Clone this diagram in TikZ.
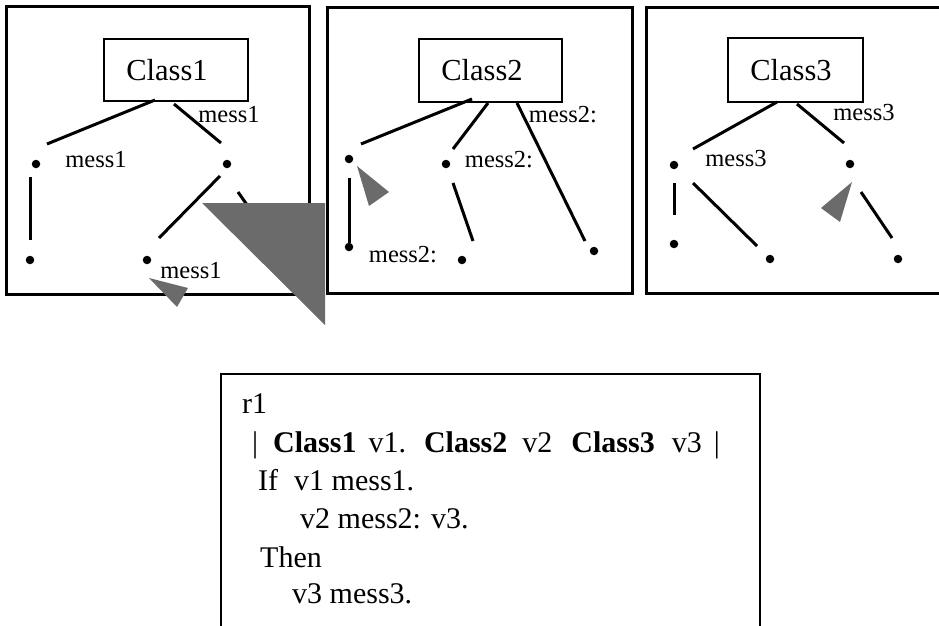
\documentclass[tikz,border=0pt]{standalone}
\usepackage{fontspec}
\setmainfont{Liberation Serif}
\begin{document}
\begin{tikzpicture}[x=1pt,y=-1pt,
  panel/.style={line width=3pt},
  classbox/.style={draw, line width=2pt, rectangle, inner sep=0pt},
  ctext/.style={font=\fontsize{30.5}{34}\selectfont, inner sep=0pt, anchor=base},
  lbl/.style={font=\fontsize{24.5}{28}\selectfont, inner sep=0pt, anchor=base},
  conn/.style={line width=3pt},
  pt/.style={circle, fill=black, inner sep=0pt, minimum size=8.5pt},
  hatch/.style={fill=black!58, draw=none},
  rtext/.style={font=\fontsize{30}{36}\selectfont, inner sep=0pt, anchor=base west}]
\useasboundingbox (0,0) rectangle (939,626);

% ---------- panels ----------
\draw[panel] (6,7) rectangle (309,294);
\draw[panel] (327,8) rectangle (632,293);
\draw[panel] (950,8) -- (646,8) -- (646,293) -- (950,293);

% ---------- panel 1 ----------
\node[classbox, minimum width=144pt, minimum height=62pt] (c1) at (176,70) {};
\node[ctext] (c1t) at (167,80) {Class1};
\node[pt] (p1a) at (36,164) {};
\node[pt] (p1b) at (227,164) {};
\node[pt] (p1c) at (30,260) {};
\node[pt] (p1d) at (147,260) {};
\coordinate (e1a) at (155,100); \coordinate (e1b) at (47,144);
\coordinate (e1c) at (174,104); \coordinate (e1d) at (221,143);
\coordinate (e1e) at (30,177);  \coordinate (e1f) at (30,240);
\coordinate (e1g) at (220,176); \coordinate (e1h) at (159,238);
\coordinate (e1i) at (238,192); \coordinate (e1j) at (252,212);
\draw[conn] (e1a) -- (e1b);
\draw[conn] (e1c) -- (e1d);
\draw[conn] (e1e) -- (e1f);
\draw[conn] (e1g) -- (e1h);
\draw[conn] (e1i) -- (e1j);
\node[lbl] (l1a) at (229,122) {mess1};
\node[lbl] (l1b) at (96,167) {mess1};
\node[lbl] (l1c) at (191,278) {mess1};

% ---------- panel 2 ----------
\node[classbox, minimum width=143pt, minimum height=63pt] (c2) at (490.5,70.5) {};
\node[ctext] (c2t) at (482,80) {Class2};
\node[pt] (p2a) at (349,159) {};
\node[pt] (p2b) at (446,164) {};
\node[pt] (p2c) at (349,247) {};
\node[pt] (p2d) at (462,260) {};
\node[pt] (p2e) at (594,251) {};
\coordinate (e2a) at (472,99);  \coordinate (e2b) at (361,144);
\coordinate (e2c) at (488,103); \coordinate (e2d) at (453,149);
\coordinate (e2e) at (517,103); \coordinate (e2f) at (585,241);
\coordinate (e2g) at (453,183); \coordinate (e2h) at (473,241);
\coordinate (e2i) at (349,178);
\draw[conn] (e2a) -- (e2b);
\draw[conn] (e2c) -- (e2d);
\draw[conn] (e2e) -- (e2f);
\draw[conn] (p2c) -- (e2i);
\draw[conn] (e2g) -- (e2h);
\node[lbl] (l2a) at (563,122) {mess2:};
\node[lbl] (l2b) at (499,167) {mess2:};
\node[lbl] (l2c) at (403,262) {mess2:};

% ---------- panel 3 ----------
\node[classbox, minimum width=135pt, minimum height=64pt] (c3) at (795.5,70) {};
\node[ctext] (c3t) at (791,80) {Class3};
\node[pt] (p3a) at (674,165) {};
\node[pt] (p3b) at (850,164) {};
\node[pt] (p3c) at (674,244) {};
\node[pt] (p3d) at (770,259) {};
\node[pt] (p3e) at (898,259) {};
\coordinate (e3a) at (777,102); \coordinate (e3b) at (693,149);
\coordinate (e3c) at (797,104); \coordinate (e3d) at (844,143);
\coordinate (e3e) at (674,183); \coordinate (e3f) at (674,215);
\coordinate (e3g) at (693,183); \coordinate (e3h) at (757,246);
\coordinate (e3i) at (861,192); \coordinate (e3j) at (892,238);
\draw[conn] (e3a) -- (e3b);
\draw[conn] (e3c) -- (e3d);
\draw[conn] (e3e) -- (e3f);
\draw[conn] (e3g) -- (e3h);
\draw[conn] (e3i) -- (e3j);
\node[lbl] (l3a) at (864,120) {mess3};
\node[lbl] (l3b) at (736,166) {mess3};

% ---------- shaded arrowheads ----------
\fill[hatch] (202,203) -- (325,203) -- (325,325) -- cycle;
\fill[hatch] (149,278) -- (188,288) -- (177,307) -- cycle;
\fill[hatch] (357,166) -- (389,192) -- (369,206) -- cycle;
\fill[hatch] (852,182) -- (821,208) -- (840,222) -- cycle;

% ---------- rule box ----------
\draw[line width=2.5pt] (221,640) -- (221,374) -- (760,374) -- (760,640);
\node[rtext] (r1) at (242,413) {r1};
\node[rtext] (r2) at (252,452) {|\hspace{15pt}\textbf{Class1}\hspace{12pt}v1.\hspace{18pt}\textbf{Class2}\hspace{15pt}v2\hspace{19pt}\textbf{Class3}\hspace{17pt}v3\hspace{12pt}|};
\node[rtext] (r3) at (258,490) {If\hspace{16pt}v1 mess1.};
\node[rtext] (r4) at (300,528) {v2 mess2: v3.};
\node[rtext] (r5) at (260,567) {Then};
\node[rtext] (r6) at (292,603) {v3 mess3.};
\end{tikzpicture}
\end{document}
